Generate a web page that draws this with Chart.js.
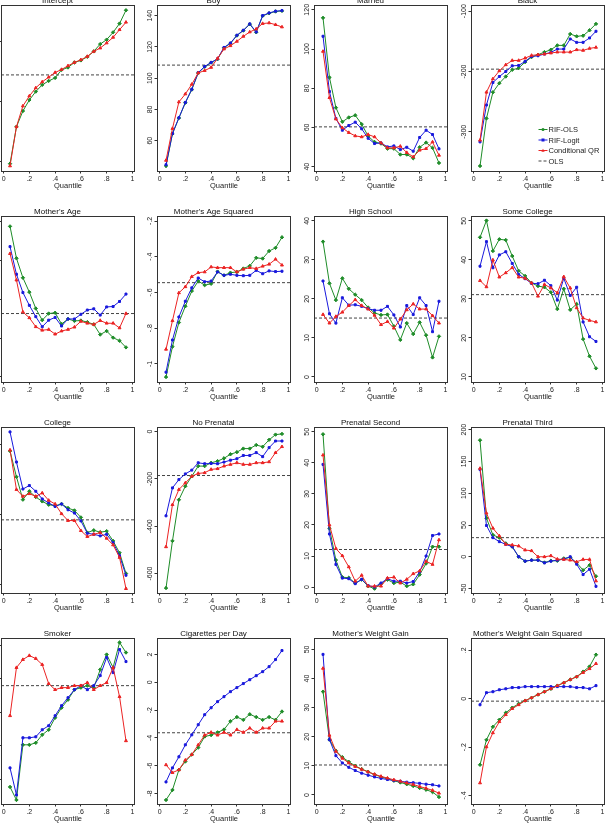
<!DOCTYPE html>
<html>
<head>
  <script src="https://cdn.jsdelivr.net/npm/chart.js"></script>
  <style>
    body { margin: 0; background: #fff; }
    #grid { position: relative; width: 614px; height: 825px; overflow: hidden; }
    #grid canvas { position: absolute; }
  </style>
</head>
<body>
  <div id="grid"></div>
  <script>
    // quantiles on the x axis
    const quantiles = [0.05, 0.10, 0.15, 0.20, 0.25, 0.30, 0.35, 0.40, 0.45, 0.50, 0.55, 0.60, 0.65, 0.70, 0.75, 0.80, 0.85, 0.90, 0.95];
    const xTickValues = [0, 0.2, 0.4, 0.6, 0.8, 1];
    const xTickLabels = ['0', '.2', '.4', '.6', '.8', '1'];
    const seriesNames = ['RIF-OLS', 'RIF-Logit', 'Conditional QR', 'OLS'];

    // Intercept
    const interceptRifOls = [2483, 2791, 2922, 3014, 3084, 3140, 3173, 3198, 3265, 3285, 3327, 3344, 3374, 3419, 3480, 3517, 3578, 3651, 3762];
    const interceptRifLogit = null;
    const interceptCqr = [2464, 2791, 2964, 3047, 3115, 3165, 3204, 3243, 3268, 3299, 3327, 3349, 3377, 3419, 3447, 3489, 3536, 3600, 3662];
    const interceptOls = 3223;
    const interceptTicks = [2500, 3000, 3500];
    const interceptTickLabels = ['2500', '3000', '3500'];

    // Boy
    const boyRifOls = [43.8, 64.4, 74.5, 84.3, 92.7, 103.4, 107.3, 110.0, 112.2, 119.5, 122.3, 127.3, 130.5, 134.6, 129.4, 139.9, 141.6, 142.7, 143.1];
    const boyRifLogit = [44.6, 64.6, 74.7, 84.5, 92.9, 103.6, 107.5, 110.1, 112.4, 119.7, 122.5, 127.5, 130.7, 134.8, 129.6, 140.1, 141.8, 142.9, 143.3];
    const boyCqr = [47.4, 67.8, 84.8, 89.9, 96.1, 103.4, 104.9, 106.9, 112.7, 118.7, 120.8, 123.6, 126.8, 129.6, 131.5, 135.0, 135.4, 134.3, 132.8];
    const boyOls = 108.4;
    const boyTicks = [60, 80, 100, 120, 140];
    const boyTickLabels = ['60', '80', '100', '120', '140'];

    // Married
    const marriedRifOls = [115.9, 85.5, 70.1, 62.9, 65.1, 66.2, 61.7, 55.6, 52.6, 51.8, 49.2, 49.2, 46.2, 46.2, 44.3, 49.9, 52.3, 49.6, 41.9];
    const marriedRifLogit = [106.5, 78.3, 64.6, 58.6, 61.0, 62.7, 59.3, 54.5, 51.8, 52.1, 50.1, 50.6, 48.7, 49.9, 47.9, 54.9, 58.6, 56.4, 49.1];
    const marriedCqr = [98.8, 75.2, 64.3, 59.8, 57.4, 55.7, 55.2, 56.4, 55.2, 52.1, 49.6, 49.6, 50.4, 47.2, 45.0, 48.4, 49.2, 52.6, 45.8];
    const marriedOls = 60.3;
    const marriedTicks = [40, 60, 80, 100, 120];
    const marriedTickLabels = ['40', '60', '80', '100', '120'];

    // Black
    const blackRifOls = [-356.7, -277.8, -234.4, -219.4, -208.3, -197.2, -194.4, -184.4, -176.1, -172.2, -167.8, -163.9, -156.7, -156.7, -137.8, -141.7, -140.6, -131.7, -121.1];
    const blackRifLogit = [-316.7, -255.6, -218.3, -208.3, -200.0, -190.6, -190.0, -183.3, -175.0, -173.9, -171.1, -168.3, -162.8, -162.8, -146.1, -151.7, -151.7, -144.4, -133.3];
    const blackCqr = [-313.9, -234.4, -212.2, -198.9, -188.9, -181.7, -181.7, -177.8, -173.3, -172.2, -171.1, -169.4, -167.8, -167.8, -167.8, -163.9, -165.0, -161.7, -160.0];
    const blackOls = -196.1;
    const blackTicks = [-300, -200, -100];
    const blackTickLabels = ['-300', '-200', '-100'];

    // Mother's Age
    const ageRifOls = [58.7, 50.5, 45.5, 41.8, 37.6, 34.6, 36.3, 36.5, 33.6, 34.9, 34.4, 34.5, 34.1, 33.5, 30.9, 31.8, 30.1, 29.3, 27.6];
    const ageRifLogit = [53.5, 46.4, 41.7, 38.4, 35.5, 32.9, 34.6, 35.3, 33.1, 34.9, 34.9, 36.1, 37.2, 37.5, 35.9, 38.0, 38.1, 39.4, 41.3];
    const ageCqr = [51.7, 44.9, 36.7, 35.2, 32.9, 32.0, 32.2, 31.0, 31.8, 32.2, 32.8, 34.3, 33.8, 33.5, 34.5, 33.8, 33.8, 32.6, 36.3];
    const ageOls = 36.3;
    const ageTicks = [20, 30, 40, 50, 60];
    const ageTickLabels = ['20', '30', '40', '50', '60'];

    // Mother's Age Squared
    const ageSqRifOls = [-1.073, -0.903, -0.768, -0.677, -0.592, -0.536, -0.559, -0.551, -0.483, -0.504, -0.489, -0.485, -0.466, -0.451, -0.406, -0.410, -0.368, -0.350, -0.291];
    const ageSqRifLogit = [-1.046, -0.866, -0.737, -0.649, -0.574, -0.519, -0.540, -0.536, -0.485, -0.504, -0.498, -0.504, -0.506, -0.504, -0.476, -0.495, -0.479, -0.483, -0.481];
    const ageSqCqr = [-0.918, -0.758, -0.602, -0.568, -0.511, -0.489, -0.485, -0.457, -0.461, -0.461, -0.461, -0.485, -0.470, -0.461, -0.466, -0.453, -0.442, -0.414, -0.447];
    const ageSqOls = -0.545;
    const ageSqTicks = [-1, -0.8, -0.6, -0.4, -0.2];
    const ageSqTickLabels = ['-1', '-.8', '-.6', '-.4', '-.2'];

    // High School
    const hsRifOls = [34.7, 24.0, 19.7, 25.3, 22.6, 21.1, 19.7, 17.8, 16.4, 15.9, 16.0, 13.0, 9.5, 13.8, 11.0, 14.0, 10.7, 5.0, 10.4];
    const hsRifLogit = [24.6, 16.2, 13.8, 20.3, 18.4, 18.5, 18.1, 17.5, 17.1, 17.1, 18.1, 15.9, 12.8, 18.3, 16.0, 20.3, 18.3, 11.6, 19.4];
    const hsCqr = [16.0, 13.8, 15.5, 16.6, 18.3, 19.8, 18.3, 17.4, 15.8, 13.4, 14.2, 12.5, 14.8, 17.2, 18.7, 17.4, 17.4, 15.7, 13.8];
    const hsOls = 15.1;
    const hsTicks = [0, 10, 20, 30, 40];
    const hsTickLabels = ['0', '10', '20', '30', '40'];

    // Some College
    const someColRifOls = [45.8, 50.1, 42.3, 45.3, 45.1, 41.0, 37.2, 35.9, 34.1, 33.3, 33.0, 31.7, 27.4, 32.6, 27.2, 28.7, 19.7, 15.3, 12.2];
    const someColRifLogit = [38.4, 44.7, 38.0, 41.3, 42.1, 39.1, 36.3, 35.2, 34.0, 33.9, 34.8, 33.4, 29.7, 35.3, 30.9, 33.0, 24.1, 20.3, 19.1];
    const someColCqr = [34.7, 33.1, 40.0, 35.6, 36.7, 38.0, 35.6, 35.3, 34.1, 30.7, 33.7, 32.8, 31.6, 35.7, 32.8, 27.7, 25.1, 24.5, 24.1];
    const someColOls = 31.1;
    const someColTicks = [10, 20, 30, 40, 50];
    const someColTickLabels = ['10', '20', '30', '40', '50'];

    // College
    const colRifOls = [96.5, 81.7, 68.6, 73.4, 70.1, 67.6, 65.7, 65.1, 66.1, 63.8, 62.4, 58.4, 49.7, 51.0, 49.9, 50.5, 44.9, 38.1, 26.2];
    const colRifLogit = [107.5, 90.2, 74.7, 76.7, 73.4, 69.0, 66.7, 64.7, 66.1, 62.8, 60.9, 56.4, 49.3, 48.7, 47.8, 48.7, 43.9, 36.4, 25.2];
    const colCqr = [97.1, 74.4, 70.5, 72.0, 70.5, 72.4, 68.2, 66.1, 60.5, 56.6, 56.6, 50.8, 47.4, 48.7, 49.7, 46.4, 42.6, 35.4, 17.5];
    const colOls = 57.0;
    const colTicks = [20, 40, 60, 80, 100];
    const colTickLabels = ['20', '40', '60', '80', '100'];

    // No Prenatal
    const noPreRifOls = [-661, -462, -288, -231, -189, -146, -146, -132, -125, -113, -96, -87, -72, -72, -57, -64, -35, -13, -10];
    const noPreRifLogit = [-356, -238, -203, -179, -163, -132, -136, -135, -136, -129, -121, -115, -101, -101, -89, -106, -68, -40, -40];
    const noPreCqr = [-487, -309, -245, -217, -189, -177, -174, -160, -157, -146, -139, -132, -139, -139, -132, -132, -128, -89, -64];
    const noPreOls = -185.8;
    const noPreTicks = [-600, -400, -200, 0];
    const noPreTickLabels = ['-600', '-400', '-200', '0'];

    // Prenatal Second
    const pre2RifOls = [49.2, 18.9, 8.7, 3.2, 3.0, 1.3, 2.4, 0.3, -0.5, 1.1, 2.4, 1.3, 1.6, 0.3, 0.9, 4.0, 7.6, 13.0, 13.0];
    const pre2RifLogit = [39.5, 17.1, 7.3, 2.9, 2.7, 1.1, 2.5, 0.5, 0.0, 1.3, 2.7, 1.9, 1.9, 1.3, 1.8, 4.9, 10.0, 16.6, 17.1];
    const pre2Cqr = [42.5, 20.0, 12.4, 10.1, 6.5, 1.9, 3.8, 0.3, 0.3, 0.3, 2.9, 3.2, 1.3, 2.5, 4.3, 5.2, 8.3, 7.3, 15.2];
    const pre2Ols = 12.1;
    const pre2Ticks = [0, 10, 20, 30, 40, 50];
    const pre2TickLabels = ['0', '10', '20', '30', '40', '50'];

    // Prenatal Third
    const pre3RifOls = [183.4, 60.8, 34.4, 30.1, 21.1, 15.9, 0.0, -6.9, -5.3, -5.3, -9.0, -6.3, -6.3, -2.6, -1.1, -9.5, -21.1, -13.2, -30.7];
    const pre3RifLogit = [137.4, 49.2, 30.1, 23.8, 19.6, 15.9, 0.0, -6.9, -5.3, -5.3, -9.5, -6.9, -5.3, -3.7, 0.0, -11.6, -28.0, -19.6, -46.5];
    const pre3Cqr = [139.0, 68.7, 44.9, 32.8, 19.6, 18.5, 16.9, 10.6, 9.5, 0.0, 0.0, 1.6, -3.7, -4.2, -5.3, -7.9, -4.2, -4.2, -38.1];
    const pre3Ols = 30.1;
    const pre3Ticks = [-50, 0, 50, 100, 150, 200];
    const pre3TickLabels = ['-50', '0', '50', '100', '150', '200'];

    // Smoker
    const smokerRifOls = [-311.5, -331, -248.5, -248.5, -245.5, -233.5, -226, -208, -193, -181, -166, -163, -160, -163, -136, -113.5, -133, -95.5, -110.5];
    const smokerRifLogit = [-283, -323.5, -238, -238, -236.5, -226, -220, -205, -190, -178, -166, -160, -166, -160, -145, -118, -140.5, -106, -124];
    const smokerCqr = [-205, -133, -121, -115, -119.5, -128.5, -157, -166, -163, -163, -160, -160, -155.5, -166, -160, -155.5, -133, -176.5, -242.5];
    const smokerOls = -160;
    const smokerTicks = [-300, -250, -200, -150, -100];
    const smokerTickLabels = ['-300', '-250', '-200', '-150', '-100'];

    // Cigarettes per Day
    const cigRifOls = [-8.47, -7.75, -6.3, -5.7, -5.2, -4.7, -3.9, -3.8, -3.6, -3.4, -2.8, -2.5, -2.7, -2.3, -2.5, -2.7, -2.5, -2.7, -2.1];
    const cigRifLogit = [-7.17, -6.16, -5.36, -4.50, -3.78, -3.05, -2.33, -1.83, -1.39, -1.03, -0.67, -0.38, -0.09, 0.19, 0.48, 0.77, 1.13, 1.64, 2.29];
    const cigCqr = [-5.94, -6.5, -6.3, -5.6, -5.2, -4.5, -3.8, -3.6, -3.8, -3.6, -3.8, -3.4, -3.6, -3.3, -3.6, -3.3, -3.3, -2.8, -2.8];
    const cigOls = -3.63;
    const cigTicks = [-8, -6, -4, -2, 0, 2];
    const cigTickLabels = ['-8', '-6', '-4', '-2', '0', '2'];

    // Mother's Weight Gain
    const wgRifOls = [35.5, 19.0, 15.2, 13.0, 11.4, 10.0, 8.9, 8.0, 7.0, 6.2, 5.6, 4.9, 4.3, 3.7, 3.1, 2.4, 1.8, 1.0, -0.7];
    const wgRifLogit = [48.3, 19.0, 13.5, 11.0, 9.5, 8.4, 7.5, 6.8, 6.2, 5.7, 5.3, 5.0, 4.7, 4.4, 4.2, 4.0, 3.7, 3.5, 3.1];
    const wgCqr = [43.5, 20.5, 15.0, 12.6, 11.0, 9.8, 8.8, 7.9, 7.1, 6.4, 5.8, 5.2, 4.7, 4.1, 3.6, 2.9, 2.3, 1.6, 0.6];
    const wgOls = 10.3;
    const wgTicks = [0, 10, 20, 30, 40, 50];
    const wgTickLabels = ['0', '10', '20', '30', '40', '50'];

    // Mother's Weight Gain Squared
    const wgSqRifOls = [-0.273, -0.170, -0.116, -0.087, -0.058, -0.037, -0.021, -0.008, 0.004, 0.017, 0.029, 0.041, 0.054, 0.066, 0.079, 0.091, 0.112, 0.133, 0.182];
    const wgSqRifLogit = [-0.025, 0.025, 0.029, 0.037, 0.041, 0.046, 0.046, 0.050, 0.050, 0.050, 0.050, 0.050, 0.050, 0.050, 0.050, 0.046, 0.046, 0.041, 0.054];
    const wgSqCqr = [-0.348, -0.199, -0.141, -0.095, -0.066, -0.041, -0.025, -0.008, 0.004, 0.017, 0.029, 0.041, 0.054, 0.066, 0.079, 0.091, 0.108, 0.124, 0.145];
    const wgSqOls = -0.01;
    const wgSqTicks = [-0.4, -0.2, 0, 0.2];
    const wgSqTickLabels = ['-.4', '-.2', '0', '.2'];

    const panels = [
      { title: 'Intercept', a: interceptRifOls, b: interceptRifLogit, c: interceptCqr, ols: interceptOls, ticks: interceptTicks, labels: interceptTickLabels, min: 2422, max: 3810 },
      { title: 'Boy', a: boyRifOls, b: boyRifLogit, c: boyCqr, ols: boyOls, ticks: boyTicks, labels: boyTickLabels, min: 40.6, max: 147.2 },
      { title: 'Married', a: marriedRifOls, b: marriedRifLogit, c: marriedCqr, ols: marriedOls, ticks: marriedTicks, labels: marriedTickLabels, min: 37.8, max: 122.7 },
      { title: 'Black', a: blackRifOls, b: blackRifLogit, c: blackCqr, ols: blackOls, ticks: blackTicks, labels: blackTickLabels, min: -365, max: -88.9, legend: true },
      { title: "Mother's Age", a: ageRifOls, b: ageRifLogit, c: ageCqr, ols: ageOls, ticks: ageTicks, labels: ageTickLabels, min: 18.7, max: 61.5 },
      { title: "Mother's Age Squared", a: ageSqRifOls, b: ageSqRifLogit, c: ageSqCqr, ols: ageSqOls, ticks: ageSqTicks, labels: ageSqTickLabels, min: -1.101, max: -0.169 },
      { title: 'High School', a: hsRifOls, b: hsRifLogit, c: hsCqr, ols: hsOls, ticks: hsTicks, labels: hsTickLabels, min: -1.3, max: 41.4 },
      { title: 'Some College', a: someColRifOls, b: someColRifLogit, c: someColCqr, ols: someColOls, ticks: someColTicks, labels: someColTickLabels, min: 8.7, max: 51.4 },
      { title: 'College', a: colRifOls, b: colRifLogit, c: colCqr, ols: colOls, ticks: colTicks, labels: colTickLabels, min: 15, max: 110.6 },
      { title: 'No Prenatal', a: noPreRifOls, b: noPreRifLogit, c: noPreCqr, ols: noPreOls, ticks: noPreTicks, labels: noPreTickLabels, min: -682, max: 21.3 },
      { title: 'Prenatal Second', a: pre2RifOls, b: pre2RifLogit, c: pre2Cqr, ols: pre2Ols, ticks: pre2Ticks, labels: pre2TickLabels, min: -1.9, max: 51.7 },
      { title: 'Prenatal Third', a: pre3RifOls, b: pre3RifLogit, c: pre3Cqr, ols: pre3Ols, ticks: pre3Ticks, labels: pre3TickLabels, min: -57, max: 205 },
      { title: 'Smoker', a: smokerRifOls, b: smokerRifLogit, c: smokerCqr, ols: smokerOls, ticks: smokerTicks, labels: smokerTickLabels, min: -337, max: -88 },
      { title: 'Cigarettes per Day', a: cigRifOls, b: cigRifLogit, c: cigCqr, ols: cigOls, ticks: cigTicks, labels: cigTickLabels, min: -8.76, max: 3.23 },
      { title: "Mother's Weight Gain", a: wgRifOls, b: wgRifLogit, c: wgCqr, ols: wgOls, ticks: wgTicks, labels: wgTickLabels, min: -3.1, max: 54.1 },
      { title: "Mother's Weight Gain Squared", a: wgSqRifOls, b: wgSqRifLogit, c: wgSqCqr, ols: wgSqOls, ticks: wgSqTicks, labels: wgSqTickLabels, min: -0.435, max: 0.253 }
    ];

    const GREEN = 'rgb(30,140,40)';
    const BLUE = 'rgb(25,25,220)';
    const RED = 'rgb(235,35,35)';
    const GREY = '#333';
    const FONT = '"Liberation Sans", Arial, sans-serif';

    const colLeft = [1, 157, 314, 471];
    const rowTop = [5, 216, 427, 638];
    const frameW = 137, frameH = 166;
    const padL = 24, padT = 10, padR = 2, padB = 19;
    const X_MIN = -0.02, X_MAX = 1.02;

    function toPoints(arr) {
      return quantiles.map((q, i) => ({ x: q, y: arr[i] }));
    }

    function drawMarker(ctx, style, x, y, r) {
      ctx.beginPath();
      if (style === 'rect') {
        ctx.rect(x - r, y - r, 2 * r, 2 * r);
      } else if (style === 'triangle') {
        ctx.moveTo(x, y - r * 1.2);
        ctx.lineTo(x + r * 1.1, y + r * 0.8);
        ctx.lineTo(x - r * 1.1, y + r * 0.8);
        ctx.closePath();
      } else {
        ctx.arc(x, y, r, 0, Math.PI * 2);
      }
      ctx.fill();
    }

    // y labels (rotated, Stata style), plot frame and legend
    const stataPlugin = {
      id: 'stata',
      afterDraw(chart, args, opts) {
        const ctx = chart.ctx, area = chart.chartArea, ys = chart.scales.y;
        ctx.save();
        ctx.font = '7px ' + FONT;
        ctx.fillStyle = '#222';
        ctx.textAlign = 'center';
        ctx.textBaseline = 'middle';
        opts.values.forEach((v, i) => {
          const py = ys.getPixelForValue(v);
          ctx.save();
          ctx.translate(area.left - 6.5, py);
          ctx.rotate(-Math.PI / 2);
          ctx.fillText(opts.labels[i], 0, 0);
          ctx.restore();
        });
        ctx.strokeStyle = GREY;
        ctx.lineWidth = 1;
        ctx.strokeRect(Math.round(area.left) + 0.5, Math.round(area.top) + 0.5,
          Math.round(area.right - area.left) - 1, Math.round(area.bottom - area.top) - 1);

        if (opts.legend) {
          const x0 = area.left + 67.5, y0 = area.top + 125, dy = 10.5;
          const order = [2, 1, 0, 3];
          ctx.font = '7.5px ' + FONT;
          ctx.textAlign = 'left';
          order.forEach((di, k) => {
            const ds = chart.data.datasets[di];
            const y = y0 + k * dy;
            ctx.strokeStyle = ds.borderColor;
            ctx.fillStyle = ds.borderColor;
            ctx.lineWidth = 1;
            ctx.setLineDash(ds.borderDash || []);
            ctx.beginPath();
            ctx.moveTo(x0, y);
            ctx.lineTo(x0 + 9, y);
            ctx.stroke();
            ctx.setLineDash([]);
            if (ds.pointRadius > 0) drawMarker(ctx, ds.pointStyle, x0 + 4.5, y, 1.5);
            ctx.fillStyle = '#222';
            ctx.fillText(ds.label, x0 + 10, y + 0.5);
          });
        }
        ctx.restore();
      }
    };

    const grid = document.getElementById('grid');

    panels.forEach((p, idx) => {
      const col = idx % 4, row = Math.floor(idx / 4);
      const canvas = document.createElement('canvas');
      const w = padL + frameW + padR, h = padT + frameH + padB;
      canvas.width = w;
      canvas.height = h;
      canvas.style.left = (colLeft[col] - padL) + 'px';
      canvas.style.top = (rowTop[row] - padT) + 'px';
      canvas.style.width = w + 'px';
      canvas.style.height = h + 'px';
      grid.appendChild(canvas);

      const datasets = [
        { label: seriesNames[2], data: toPoints(p.c), borderColor: RED, backgroundColor: RED, pointStyle: 'triangle', pointRadius: 1.7, borderWidth: 1, order: 1 },
        { label: seriesNames[1], data: p.b ? toPoints(p.b) : [], borderColor: BLUE, backgroundColor: BLUE, pointStyle: 'rect', pointRadius: 1.4, borderWidth: 1, order: 2 },
        { label: seriesNames[0], data: toPoints(p.a), borderColor: GREEN, backgroundColor: GREEN, pointStyle: 'rectRot', pointRadius: 1.7, borderWidth: 1, order: 3 },
        { label: seriesNames[3], data: [{ x: X_MIN, y: p.ols }, { x: X_MAX, y: p.ols }], borderColor: '#444', borderDash: [3, 2], pointRadius: 0, borderWidth: 1, order: 4 }
      ];

      new Chart(canvas, {
        type: 'line',
        data: { datasets: datasets },
        options: {
          responsive: false,
          animation: false,
          devicePixelRatio: 1,
          layout: { padding: { top: 1.5, right: padR, left: 0, bottom: 0 } },
          elements: { line: { tension: 0 }, point: { borderWidth: 0 } },
          plugins: {
            legend: { display: false },
            tooltip: { enabled: false },
            title: {
              display: true, text: p.title, color: '#111',
              font: { family: FONT, size: 8, weight: 'normal', lineHeight: 1 },
              padding: { top: 0, bottom: 0 }
            },
            stata: { values: p.ticks, labels: p.labels, legend: !!p.legend }
          },
          scales: {
            x: {
              type: 'linear', min: X_MIN, max: X_MAX,
              afterBuildTicks: s => { s.ticks = xTickValues.map(v => ({ value: v })); },
              afterFit: s => { s.height = padB; },
              ticks: { callback: (v, i) => xTickLabels[i], color: '#222', padding: 2.5, maxRotation: 0,
                font: { family: FONT, size: 7, lineHeight: 1 } },
              grid: { drawOnChartArea: false, drawTicks: true, tickLength: 2.5, color: GREY },
              border: { display: false },
              title: { display: true, text: 'Quantile', color: '#222', padding: 0,
                font: { family: FONT, size: 7.5, lineHeight: 1 } }
            },
            y: {
              type: 'linear', min: p.min, max: p.max,
              afterBuildTicks: s => { s.ticks = p.ticks.map(v => ({ value: v })); },
              afterFit: s => { s.width = padL; },
              ticks: { display: false },
              grid: { drawOnChartArea: false, drawTicks: true, tickLength: 2.5, color: GREY },
              border: { display: false }
            }
          }
        },
        plugins: [stataPlugin]
      });
    });
  </script>
</body>
</html>
